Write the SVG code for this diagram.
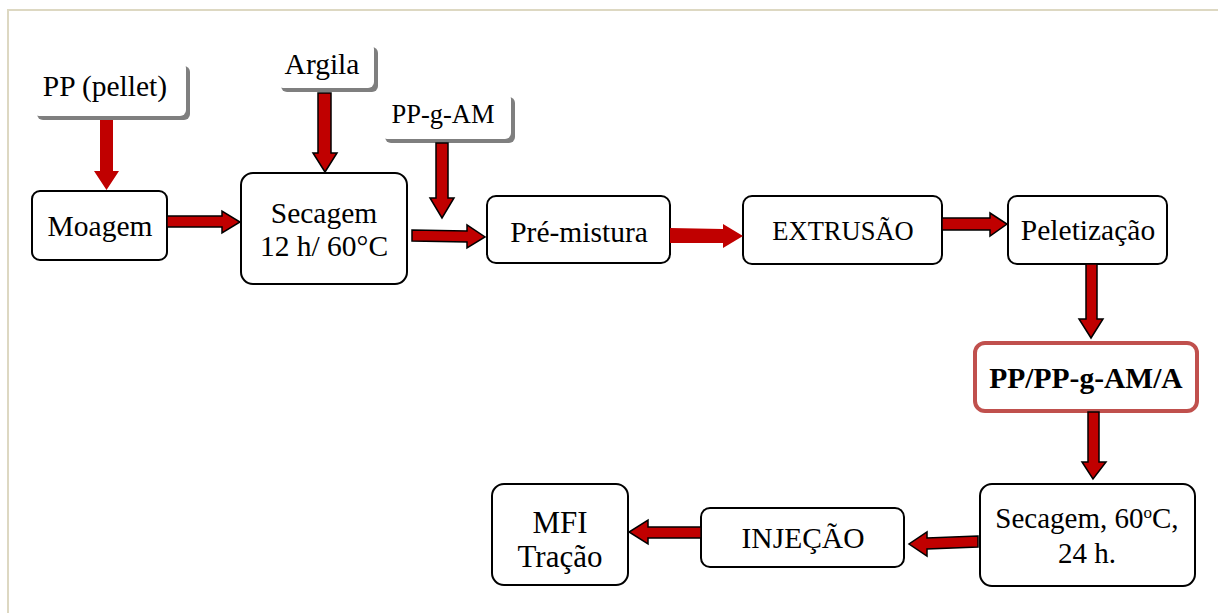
<svg xmlns="http://www.w3.org/2000/svg" width="1218" height="613" viewBox="0 0 1218 613">
<style>
.t{font-family:"Liberation Serif","Times New Roman",serif;font-size:29.5px;fill:#000;text-anchor:middle}
.node{fill:#fff;stroke:#000;stroke-width:2}
.shadow{fill:#7f7f7f}
.src{fill:#fff}
.arr{fill:#c00000;stroke:#000;stroke-width:1.5;stroke-linejoin:miter}
.arrn{fill:#c00000;stroke:none}
.frame{stroke:#ddd8c2;stroke-width:2;fill:none}
</style>
<rect width="1218" height="613" fill="#fff"/>
<path class="frame" d="M8,613 V10 H1218"/>

<g id="src-pp">
<rect class="shadow" x="37" y="66" width="153" height="54" rx="6"/>
<rect class="src" x="33" y="62" width="153" height="54" rx="6"/>
<text class="t" x="105" y="96">PP (pellet)</text>
</g>
<g id="src-argila">
<rect class="shadow" x="281" y="47" width="97" height="45" rx="6"/>
<rect class="src" x="277" y="43" width="97" height="45" rx="6"/>
<text class="t" x="322" y="74">Argila</text>
</g>
<g id="src-ppgam">
<rect class="shadow" x="385" y="97" width="130" height="46" rx="6"/>
<rect class="src" x="381" y="93" width="130" height="46" rx="6"/>
<text class="t" x="443" y="123" style="font-size:26.5px">PP-g-AM</text>
</g>

<g id="moagem">
<rect class="node" x="32" y="191" width="135" height="69" rx="8"/>
<text class="t" x="100" y="236">Moagem</text>
</g>
<g id="secagem1">
<rect class="node" x="241" y="173" width="166" height="111" rx="12"/>
<text class="t" x="324" y="223">Secagem</text>
<text class="t" x="324" y="256">12 h/ 60°C</text>
</g>
<g id="premistura">
<rect class="node" x="487" y="196" width="183" height="67" rx="9"/>
<text class="t" x="579" y="242">Pré-mistura</text>
</g>
<g id="extrusao">
<rect class="node" x="743" y="196" width="199" height="68" rx="9"/>
<text class="t" x="843" y="240" style="font-size:26.5px">EXTRUSÃO</text>
</g>
<g id="peletizacao">
<rect class="node" x="1008" y="196" width="159" height="68" rx="9"/>
<text class="t" x="1088" y="240">Peletização</text>
</g>
<g id="composito">
<rect x="975" y="343" width="222" height="68" rx="10" fill="#fff" stroke="#c0504d" stroke-width="4"/>
<text class="t" x="1086" y="388" style="font-weight:bold">PP/PP-g-AM/A</text>
</g>
<g id="secagem2">
<rect class="node" x="980" y="484" width="215" height="102" rx="12"/>
<text class="t" x="1087" y="528" style="font-size:29px">Secagem, 60<tspan dy="-10" style="font-size:17px">o</tspan><tspan dy="10">C,</tspan></text>
<text class="t" x="1087" y="563" style="font-size:29px">24 h.</text>
</g>
<g id="injecao">
<rect class="node" x="701" y="508" width="203" height="59" rx="9"/>
<text class="t" x="803" y="548">INJEÇÃO</text>
</g>
<g id="mfi">
<rect class="node" x="492" y="484" width="136" height="101" rx="12"/>
<text class="t" x="560" y="533" style="font-size:31px">MFI</text>
<text class="t" x="560" y="567" style="font-size:31px">Tração</text>
</g>

<g id="connectors">
<polygon class="arrn" points="100,120 113,120 113,171 119,171 106.5,190 94,171 100,171"/>
<polygon class="arr" points="318,93 331,93 331,153 337,153 325,172 313,153 318,153"/>
<polygon class="arr" points="436,143 448,143 448,198 454,198 442,218 430,198 436,198"/>
<polygon class="arr" points="167,216 222,216 222,211 240,222 222,233 222,227 167,227"/>
<polygon class="arr" points="412,230 467,231 467,225 485,237 467,248 467,242 412,241"/>
<polygon class="arrn" points="670,228 723,229 723,224 743,236 723,248 723,243 670,243"/>
<polygon class="arr" points="942,218 990,218 990,213 1007,224 990,236 990,230 942,230"/>
<polygon class="arr" points="1086,264 1097,264 1097,319 1103,319 1091,338 1079,319 1086,319"/>
<polygon class="arr" points="1088,412 1099,412 1099,462 1106,462 1093,479 1082,462 1088,462"/>
<polygon class="arr" points="978,536 927,538 927,532 909,544 927,556 927,549 978,547"/>
<polygon class="arr" points="701,527 648,527 648,520 629,532 648,544 648,538 701,538"/>
</g>
</svg>
